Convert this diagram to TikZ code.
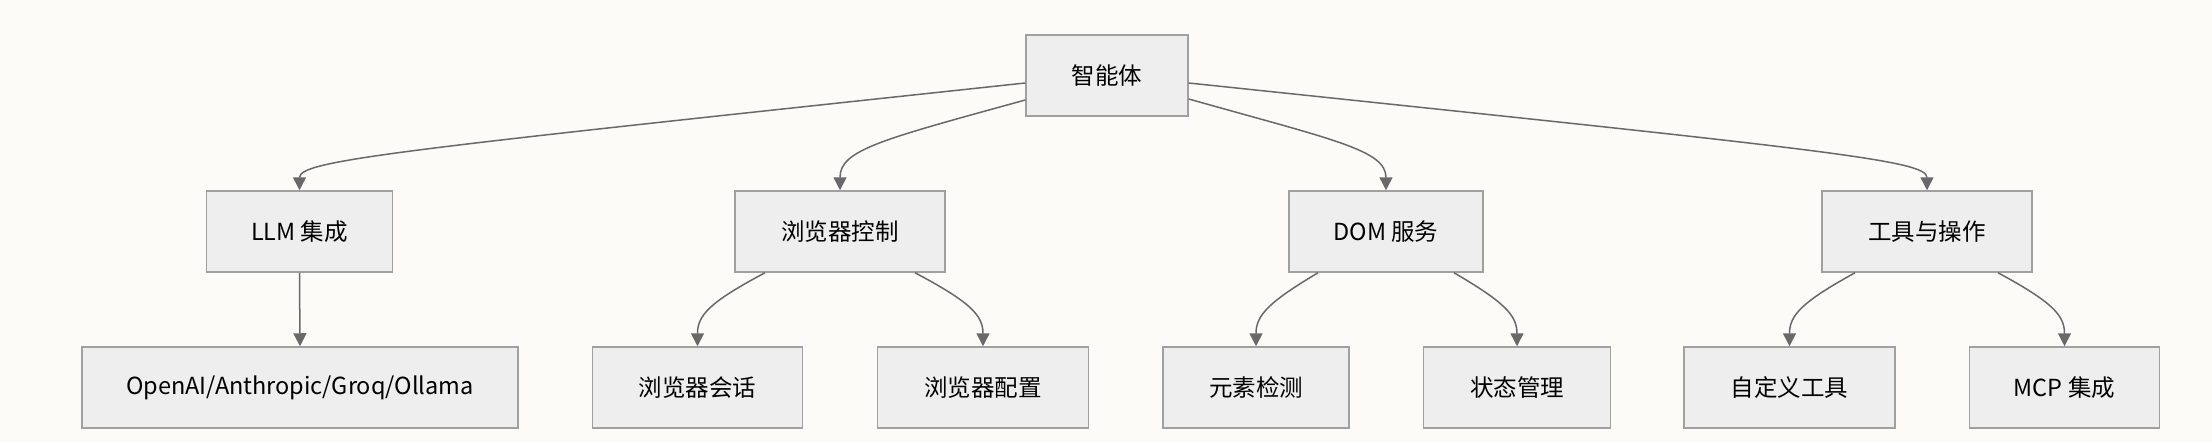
\documentclass[tikz,border=0pt]{standalone}
\usepackage{fontspec}
\newfontfamily\cjk{Noto Sans CJK SC}
\usetikzlibrary{arrows.meta}
\definecolor{bgcol}{RGB}{252,251,248}
\definecolor{boxfill}{RGB}{238,238,238}
\definecolor{boxline}{RGB}{160,160,160}
\definecolor{edgecol}{RGB}{105,105,105}

\begin{document}
\begin{tikzpicture}[x=1pt, y=-1pt,
    box/.style={draw=boxline, fill=boxfill, line width=1.5pt,
      minimum width=#1, minimum height=81pt, inner sep=0pt,
      font=\cjk\fontsize{23.5}{28}\selectfont},
    edge/.style={draw=edgecol, line width=1.5pt,
      -{Triangle[length=13pt,width=13pt]}}]
  \fill[bgcol] (0,0) rectangle (2212,442);
  \useasboundingbox (0,0) rectangle (2212,442);

  % top
  \node[box=162pt] (agent) at (1107,75.5) {智能体};

  % second row
  \node[box=186pt] (llm)   at (299.5,231.5) {LLM 集成};
  \node[box=210pt] (brw)   at (840,231.5)   {浏览器控制};
  \node[box=194pt] (dom)   at (1386,231.5)  {DOM 服务};
  \node[box=210pt] (tools) at (1927,231.5)  {工具与操作};

  % third row
  \node[box=436pt] (prov)  at (300,387.5)  {OpenAI/Anthropic/Groq/Ollama};
  \node[box=210pt] (sess)  at (697.5,387.5) {浏览器会话};
  \node[box=211pt] (conf)  at (983,387.5)  {浏览器配置};
  \node[box=186pt] (elem)  at (1256,387.5) {元素检测};
  \node[box=187pt] (state) at (1517,387.5) {状态管理};
  \node[box=211pt] (cust)  at (1789.5,387.5) {自定义工具};
  \node[box=190pt] (mcp)   at (2064.5,387.5) {MCP 集成};

  % agent -> second row
  \draw[edge] ([yshift=-7.5pt]agent.west) .. controls (400,150) and (llm.north |- 0,160) .. (llm.north);
  \draw[edge] ([yshift=-24.5pt]agent.west) .. controls (880,140) and (brw.north |- 0,150) .. (brw.north);
  \draw[edge] ([yshift=-23.5pt]agent.east) .. controls (1334,140) and (dom.north |- 0,150) .. (dom.north);
  \draw[edge] ([yshift=-7.5pt]agent.east) .. controls (1827,150) and (tools.north |- 0,160) .. (tools.north);

  % second row -> third row
  \draw[edge] (llm.south) -- (prov.north);
  \draw[edge] ([xshift=-75pt]brw.south) .. controls (710,302) and (sess.north |- 0,315) .. (sess.north);
  \draw[edge] ([xshift=75pt]brw.south) .. controls (970,302) and (conf.north |- 0,315) .. (conf.north);
  \draw[edge] ([xshift=-68pt]dom.south) .. controls (1269,302) and (elem.north |- 0,315) .. (elem.north);
  \draw[edge] ([xshift=68pt]dom.south) .. controls (1504,302) and (state.north |- 0,315) .. (state.north);
  \draw[edge] ([xshift=-72pt]tools.south) .. controls (1802,302) and (cust.north |- 0,315) .. (cust.north);
  \draw[edge] ([xshift=71pt]tools.south) .. controls (2052,302) and (mcp.north |- 0,315) .. (mcp.north);
\end{tikzpicture}
\end{document}
